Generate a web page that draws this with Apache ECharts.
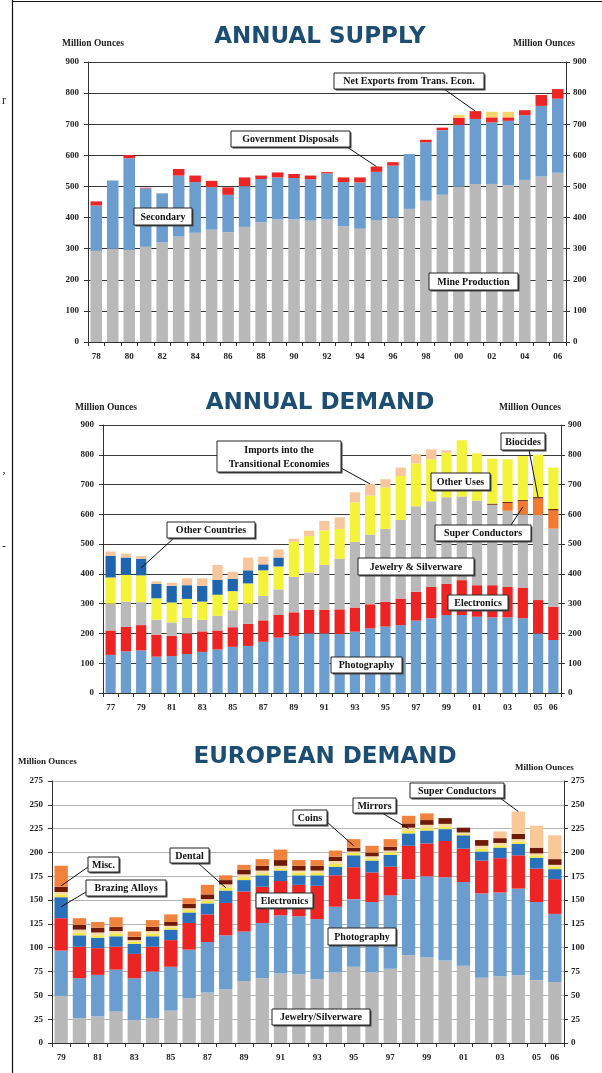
<!DOCTYPE html>
<html>
<head>
<meta charset="utf-8">
<script src="https://cdn.jsdelivr.net/npm/echarts@6/dist/echarts.min.js"></script>
<style>
html, body { margin: 0; padding: 0; background: #fff; }
#main { width: 602px; height: 1073px; }
</style>
</head>
<body>
<div id="main"></div>
<script>
// Annual supply, million ounces, 1978-2006
var supplyYears = ['78','79','80','81','82','83','84','85','86','87','88','89','90','91','92','93','94','95','96','97','98','99','00','01','02','03','04','05','06'];
var supplyMine = [293,300,296,306,320,339,351,361,353,370,385,394,394,390,394,372,364,392,400,428,454,473,500,508,508,504,521,532,544];
var supplySecondary = [146,219,295,188,158,196,163,137,120,131,139,135,133,133,148,142,149,155,167,176,188,208,198,209,198,207,208,227,238];
var supplyGovernment = [13,0,10,2,0,21,21,20,24,28,11,16,13,12,4,15,16,17,11,0,8,8,23,25,16,11,16,35,31];
var supplyNetExports = [0,0,0,0,0,0,0,0,0,0,0,0,0,0,0,0,0,0,0,0,0,0,9,0,18,18,0,0,0];

// Annual demand, million ounces, 1977-2006
var demandYears = ['77','78','79','80','81','82','83','84','85','86','87','88','89','90','91','92','93','94','95','96','97','98','99','00','01','02','03','04','05','06'];
var demandPhotography = [128,140,143,122,124,131,138,146,155,158,172,186,192,200,200,198,206,217,223,228,243,251,262,262,256,254,254,251,200,178];
var demandElectronics = [82,82,85,74,68,69,69,64,66,74,72,76,79,80,80,83,81,81,83,89,97,105,105,117,106,108,102,103,112,112];
var demandJewelry = [90,85,77,50,45,52,39,49,57,68,82,86,119,125,150,170,220,234,245,264,287,288,290,281,284,270,256,246,286,262];
var demandSuperConductors = [0,0,0,0,0,0,0,0,0,0,0,0,0,0,0,0,0,0,0,0,0,0,0,0,0,0,26,44,55,61];
var demandBiocides = [0,0,0,0,0,0,0,0,0,0,0,0,0,0,0,0,0,0,0,0,0,0,0,0,0,4,4,4,5,5];
var demandOtherUses = [88,90,90,72,67,64,61,71,64,68,86,77,118,122,116,100,133,131,139,148,144,141,150,189,159,151,143,148,142,139];
var demandOtherCountries = [72,58,55,48,56,46,53,50,41,44,20,30,0,0,0,0,0,0,0,0,0,0,0,0,0,0,0,0,0,0];
var demandImports = [15,13,10,9,10,23,25,50,24,43,26,27,10,18,32,39,34,39,28,28,31,33,8,0,0,0,0,0,0,0];

// European demand, million ounces, 1979-2006
var euroYears = ['79','80','81','82','83','84','85','86','87','88','89','90','91','92','93','94','95','96','97','98','99','00','01','02','03','04','05','06'];
var euroJewelry = [49.5,26,28,33,24,26,34,47,53,56.5,65,68,73,72,67,74,80,74,78,92,90,86.5,81,68.5,70,71,66,64];
var euroPhotography = [47.5,42,43.5,44,44,49,46,51,53,56.5,52,58,61,61,63,69,71,74,77,80,85,87.5,88,88.5,88,91,82,71.5];
var euroElectronics = [34,33,28,24,25.5,26,28,28,29,34,42,38,36,33,35,33,33.5,31,30,35,34.5,38,35,34.5,36,35,35,36.5];
var euroBrazing = [22,12,11,11,10.5,11,11,11,11.5,13,12,12,11,10,11,9,12.5,12.5,12.5,13,13.5,12.5,14,9.5,11,12,11.5,10.5];
var euroDental = [3,3,2.5,3,2,3,2,2.5,2.5,3,3,2,2,3,2.5,3,2.5,2,2.5,2.5,2.5,2.5,1.5,3,2.5,2.5,2.5,2.5];
var euroMirrors = [2.5,3,3,2.5,2,2.5,2,2,2,3.5,3,3,3,2,2.5,3,1.5,2.5,2,3.5,3.5,3,1.5,3,2.5,2.5,2,2];
var euroCoins = [5.5,5,5,4.5,3.5,4.5,4,4.5,5,4.5,5,5,6,5,5,4.5,4,4,4,4.5,5,6,5,6,5,5.5,6,6];
var euroMisc = [22,7,6,10,5.5,7,8,6,10,5,5,7,11,6,6,6.5,9,7,8,8,7,0,0,0,0,0,0,0];
var euroSuperConductors = [0,0,0,0,0,0,0,0,0,0,0,0,0,0,0,0,0,0,0,0,0,0,0,0,7,23.5,23,25];

var serif = '"Liberation Serif", "Times New Roman", serif';
var chart = echarts.init(document.getElementById('main'));

function valueAxis(g, max, step, side, gridColor) {
    return {
        type: 'value', gridIndex: g, position: side, min: 0, max: max, interval: step,
        axisLine: { show: true, lineStyle: { color: '#333' } },
        axisTick: { show: true, length: 4, lineStyle: { color: '#333' } },
        axisLabel: { color: '#222', fontFamily: serif, fontWeight: 'bold', fontSize: 9, margin: side === 'left' ? 9 : 7 },
        splitLine: { show: side === 'left', lineStyle: { color: gridColor, width: 1 } }
    };
}

function catAxis(g, cats) {
    var last = cats.length - 1;
    return {
        type: 'category', gridIndex: g, data: cats,
        axisLine: { lineStyle: { color: '#333' } },
        axisTick: { show: true, interval: 0, length: 4, lineStyle: { color: '#333' } },
        axisLabel: {
            interval: function (i) { return i % 2 === 0 || i === last; },
            color: '#222', fontFamily: serif, fontWeight: 'bold', fontSize: 9, margin: 10
        }
    };
}

function bar(name, g, data, color, gap) {
    return {
        name: name, type: 'bar', xAxisIndex: g, yAxisIndex: g * 2, stack: 's' + g,
        data: data, barCategoryGap: gap, itemStyle: { color: color },
        emphasis: { disabled: true }
    };
}

chart.setOption({
    animation: false,
    backgroundColor: '#fff',
    grid: [
        { left: 88, top: 62, width: 478, height: 280 },
        { left: 103, top: 425, width: 458, height: 268 },
        { left: 52, top: 781, width: 512, height: 262 }
    ],
    xAxis: [catAxis(0, supplyYears), catAxis(1, demandYears), catAxis(2, euroYears)],
    yAxis: [
        valueAxis(0, 900, 100, 'left', '#3a3a3a'), valueAxis(0, 900, 100, 'right', '#3a3a3a'),
        valueAxis(1, 900, 100, 'left', '#3a3a3a'), valueAxis(1, 900, 100, 'right', '#3a3a3a'),
        valueAxis(2, 275, 25, 'left', '#b5b5b5'), valueAxis(2, 275, 25, 'right', '#b5b5b5')
    ],
    series: [
        bar('Mine Production', 0, supplyMine, '#b9b9b9', '30%'),
        bar('Secondary', 0, supplySecondary, '#6b9dcf', '30%'),
        bar('Government Disposals', 0, supplyGovernment, '#ec2424', '30%'),
        bar('Net Exports from Trans. Econ.', 0, supplyNetExports, '#fbd468', '30%'),

        bar('Photography', 1, demandPhotography, '#6b9dcf', '33%'),
        bar('Electronics', 1, demandElectronics, '#ec2424', '33%'),
        bar('Jewelry & Silverware', 1, demandJewelry, '#b9b9b9', '33%'),
        bar('Super Conductors', 1, demandSuperConductors, '#f07a30', '33%'),
        bar('Biocides', 1, demandBiocides, '#7a2a0c', '33%'),
        bar('Other Uses', 1, demandOtherUses, '#f3f33c', '33%'),
        bar('Other Countries', 1, demandOtherCountries, '#1f64ae', '33%'),
        bar('Imports into the Transitional Economies', 1, demandImports, '#f8c69c', '33%'),

        bar('Jewelry/Silverware', 2, euroJewelry, '#b9b9b9', '27%'),
        bar('Photography', 2, euroPhotography, '#6b9dcf', '27%'),
        bar('Electronics', 2, euroElectronics, '#ec2424', '27%'),
        bar('Brazing Alloys', 2, euroBrazing, '#2b70bb', '27%'),
        bar('Dental', 2, euroDental, '#f2e84a', '27%'),
        bar('Mirrors', 2, euroMirrors, '#f8d9a2', '27%'),
        bar('Coins', 2, euroCoins, '#6e1a06', '27%'),
        bar('Misc.', 2, euroMisc, '#f0823e', '27%'),
        bar('Super Conductors', 2, euroSuperConductors, '#f9c898', '27%')
    ]
});

// callout boxes: box = [x, y, w, h] in page pixels, arrow runs from `from` to a bar (category index, value)
var notes = [
    { g: 0, text: 'Net Exports from Trans. Econ.', box: [334, 73, 150, 16], from: [444, 89], to: [23, 742] },
    { g: 0, text: 'Government Disposals', box: [231, 131, 119, 16], from: [347, 147], to: [17, 564] },
    { g: 0, text: 'Secondary', box: [134, 208, 58, 17] },
    { g: 0, text: 'Mine Production', box: [429, 273, 89, 17] },
    { g: 1, text: 'Imports into the\nTransitional Economies', box: [217, 441, 124, 31], from: [341, 468], to: [17, 702] },
    { g: 1, text: 'Other Countries', box: [167, 522, 88, 16], from: [174, 538], to: [2, 420] },
    { g: 1, text: 'Other Uses', box: [431, 473, 59, 17] },
    { g: 1, text: 'Biocides', box: [501, 433, 44, 17], from: [529, 450], to: [28, 657] },
    { g: 1, text: 'Super Conductors', box: [435, 525, 96, 16], from: [511, 525], to: [27, 625] },
    { g: 1, text: 'Jewelry & Silverware', box: [358, 558, 116, 17] },
    { g: 1, text: 'Electronics', box: [448, 595, 60, 15] },
    { g: 1, text: 'Photography', box: [331, 657, 71, 16] },
    { g: 2, text: 'Misc.', box: [88, 857, 31, 15], from: [88, 867], to: [0, 165] },
    { g: 2, text: 'Brazing Alloys', box: [86, 880, 80, 16], from: [86, 892], to: [0, 143] },
    { g: 2, text: 'Dental', box: [170, 848, 39, 15], from: [198, 863], to: [9, 163] },
    { g: 2, text: 'Electronics', box: [256, 893, 57, 15] },
    { g: 2, text: 'Photography', box: [328, 928, 68, 17] },
    { g: 2, text: 'Jewelry/Silverware', box: [272, 1009, 98, 16] },
    { g: 2, text: 'Coins', box: [293, 810, 34, 15], from: [327, 822], to: [16, 207] },
    { g: 2, text: 'Mirrors', box: [353, 798, 43, 15], from: [382, 813], to: [19, 225] },
    { g: 2, text: 'Super Conductors', box: [410, 783, 94, 15], from: [500, 798], to: [25, 243] }
];

function txt(x, y, s, size, weight, color, family, align) {
    return {
        type: 'text', z: 100,
        style: {
            x: x, y: y, text: s, fill: color, fontSize: size, fontWeight: weight, fontFamily: family,
            align: align, textAlign: align, verticalAlign: 'middle', textVerticalAlign: 'middle', lineHeight: 14
        }
    };
}

var sans = '"DejaVu Sans", Verdana, sans-serif';
var titleColor = '#1c4d73';
var decor = [
    { type: 'line', z: 100, shape: { x1: 12.5, y1: 0, x2: 12.5, y2: 1073 }, style: { stroke: '#111', lineWidth: 1.2 } },
    { type: 'line', z: 100, shape: { x1: 12, y1: 1.5, x2: 602, y2: 1.5 }, style: { stroke: '#111', lineWidth: 1.2 } },
    txt(4, 101, 'r', 12, 'normal', '#222', serif, 'center'),
    txt(4, 470, ',', 12, 'normal', '#222', serif, 'center'),
    txt(4, 547, '-', 12, 'normal', '#222', serif, 'center'),
    txt(320, 37, 'ANNUAL SUPPLY', 23, 'bold', titleColor, sans, 'center'),
    txt(320, 403, 'ANNUAL DEMAND', 23, 'bold', titleColor, sans, 'center'),
    txt(325, 757, 'EUROPEAN DEMAND', 23, 'bold', titleColor, sans, 'center'),
    txt(62, 44, 'Million Ounces', 9.5, 'bold', '#222', serif, 'left'),
    txt(513, 44, 'Million Ounces', 9.5, 'bold', '#222', serif, 'left'),
    txt(75, 408, 'Million Ounces', 9.5, 'bold', '#222', serif, 'left'),
    txt(499, 408, 'Million Ounces', 9.5, 'bold', '#222', serif, 'left'),
    txt(18, 762, 'Million Ounces', 9, 'bold', '#222', serif, 'left'),
    txt(515, 768, 'Million Ounces', 9, 'bold', '#222', serif, 'left')
];

notes.forEach(function (n) {
    var b = n.box;
    if (n.to) {
        var p = chart.convertToPixel({ xAxisIndex: n.g, yAxisIndex: n.g * 2 }, n.to);
        decor.push({ type: 'line', z: 99, shape: { x1: n.from[0], y1: n.from[1], x2: p[0], y2: p[1] }, style: { stroke: '#111', lineWidth: 1 } });
    }
    decor.push({ type: 'rect', z: 100, shape: { x: b[0] + 1.5, y: b[1] + 1.5, width: b[2], height: b[3] }, style: { fill: '#444' } });
    decor.push({ type: 'rect', z: 101, shape: { x: b[0], y: b[1], width: b[2], height: b[3] }, style: { fill: '#fff', stroke: '#222', lineWidth: 1 } });
    var t = txt(b[0] + b[2] / 2, b[1] + b[3] / 2 + 0.5, n.text, 10, 'bold', '#111', serif, 'center');
    t.z = 102;
    decor.push(t);
});

chart.setOption({ graphic: decor });
</script>
</body>
</html>
